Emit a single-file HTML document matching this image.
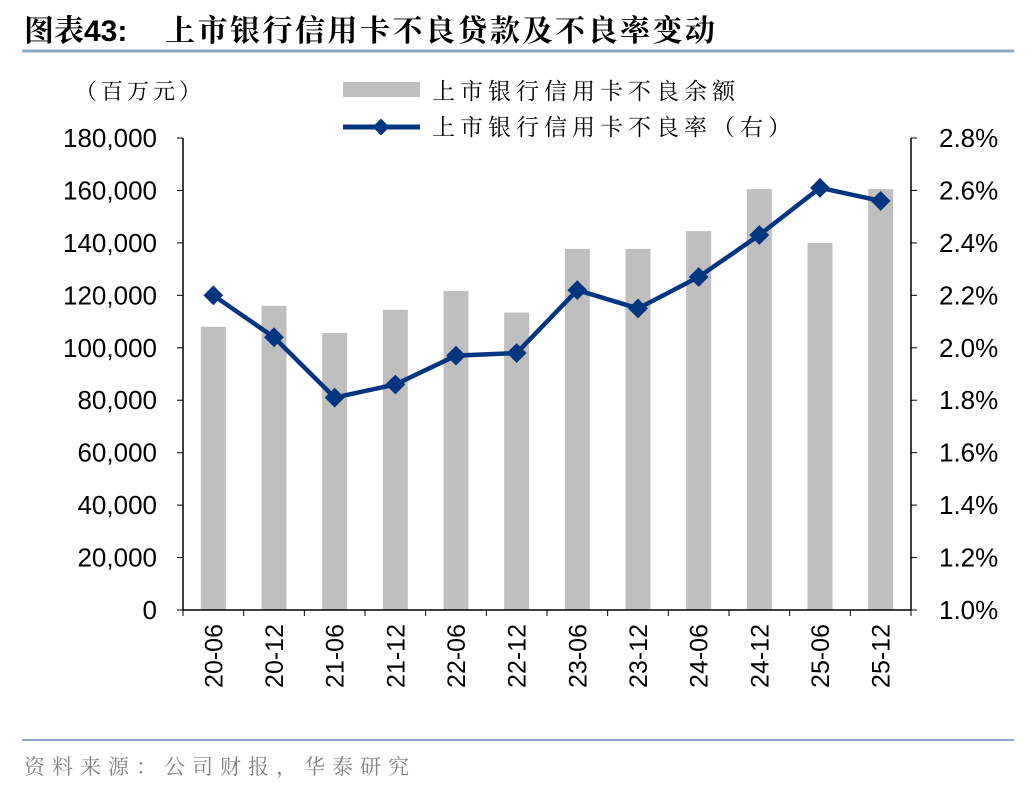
<!DOCTYPE html>
<html><head><meta charset="utf-8"><style>
body{margin:0;background:#fff;}
svg text{font-family:"Liberation Sans","Noto Serif CJK SC","Noto Sans CJK SC",sans-serif;}
</style></head><body>
<svg width="1036" height="792" xmlns="http://www.w3.org/2000/svg" id="chart">
<text x="24" y="41" font-size="30" font-weight="bold" fill="#000" style="font-family:'Liberation Sans','Noto Serif CJK SC',serif"><tspan>图表43:</tspan><tspan x="165" letter-spacing="2.5">上市银行信用卡不良贷款及不良率变动</tspan></text>
<line x1="22" y1="51" x2="1014" y2="51" stroke="#8fa8c4" stroke-width="3"/>
<text x="75" y="99" font-size="22" letter-spacing="4" fill="#000" style="font-family:'Noto Serif CJK SC',serif">（百万元）</text>
<rect x="343" y="82" width="77" height="15" fill="#bfbfbf"/>
<text x="432" y="99" font-size="23" letter-spacing="5" style="font-family:'Noto Serif CJK SC',serif">上市银行信用卡不良余额</text>
<line x1="343" y1="127" x2="420" y2="127" stroke="#003580" stroke-width="5"/>
<rect x="375" y="121" width="12" height="12" fill="#003580" transform="rotate(45 381 127)"/>
<text x="432" y="135" font-size="23" letter-spacing="5" style="font-family:'Noto Serif CJK SC',serif">上市银行信用卡不良率（右）</text>
<g id="plot"></g>
<line x1="22" y1="740" x2="1014" y2="740" stroke="#8fa8c4" stroke-width="2"/>
<text x="24" y="774" font-size="21" letter-spacing="7" fill="#7f7f7f" style="font-family:'Noto Serif CJK SC',serif">资料来源：公司财报，华泰研究</text>
</svg>
<script>
const categories=["20-06","20-12","21-06","21-12","22-06","22-12","23-06","23-12","24-06","24-12","25-06","25-12"];
const balances=[108000,116000,105600,114500,121700,113400,137700,137700,144500,160500,140000,160500];
const rates=[2.20,2.04,1.81,1.86,1.97,1.98,2.22,2.15,2.27,2.43,2.61,2.56];
const leftTicks=[0,20000,40000,60000,80000,100000,120000,140000,160000,180000];
const rightTicks=[1.0,1.2,1.4,1.6,1.8,2.0,2.2,2.4,2.6,2.8];
const NS="http://www.w3.org/2000/svg";
const g=document.getElementById('plot');
const X0=183,X1=911,Y0=610,Y1=138;
const yL=v=>Y0-(v/180000)*(Y0-Y1);
const yR=v=>Y0-((v-1.0)/1.8)*(Y0-Y1);
const bw=(X1-X0)/categories.length;
const xc=i=>X0+bw*(i+0.5);
function mk(t,a){const e=document.createElementNS(NS,t);for(const k in a)e.setAttribute(k,a[k]);g.appendChild(e);return e;}
balances.forEach((v,i)=>{const r=mk('rect',{x:xc(i)-12.5,y:yL(v),width:25,height:Y0-yL(v),fill:'#bfbfbf'});

});
let l=mk('line',{x1:X0,y1:Y1,x2:X0,y2:Y0,stroke:'#000','stroke-width':1.5});


l=mk('line',{x1:X1,y1:Y1,x2:X1,y2:Y0,stroke:'#000','stroke-width':1.5});


l=mk('line',{x1:X0,y1:Y0,x2:X1,y2:Y0,stroke:'#000','stroke-width':1.5});


leftTicks.forEach(v=>{const y=yL(v);mk('line',{x1:X0-6,y1:y,x2:X0,y2:y,stroke:'#000'});
const t=mk('text',{x:X0-26,y:y+9,'font-size':26,'text-anchor':'end'});t.textContent=v.toLocaleString('en-US');

});
rightTicks.forEach(v=>{const y=yR(v);mk('line',{x1:X1,y1:y,x2:X1+6,y2:y,stroke:'#000'});
const t=mk('text',{x:X1+28,y:y+9,'font-size':26});t.textContent=v.toFixed(1)+'%';

});
categories.forEach((c,i)=>{const x=X0+bw*i;mk('line',{x1:x,y1:Y0,x2:x,y2:Y0+6,stroke:'#000'});
const t=mk('text',{x:0,y:0,'font-size':25,'text-anchor':'end',transform:`translate(${xc(i)+9},${Y0+14}) rotate(-90)`});t.textContent=c;

});
mk('line',{x1:X1,y1:Y0,x2:X1,y2:Y0+6,stroke:'#000'});
const p=mk('polyline',{points:rates.map((v,i)=>xc(i)+','+yR(v)).join(' '),fill:'none',stroke:'#003580','stroke-width':4.5});


rates.forEach((v,i)=>{const x=xc(i),y=yR(v);const m=mk('rect',{x:x-7,y:y-7,width:14,height:14,fill:'#003580',transform:`rotate(45 ${x} ${y})`});

});
</script>
</body></html>
